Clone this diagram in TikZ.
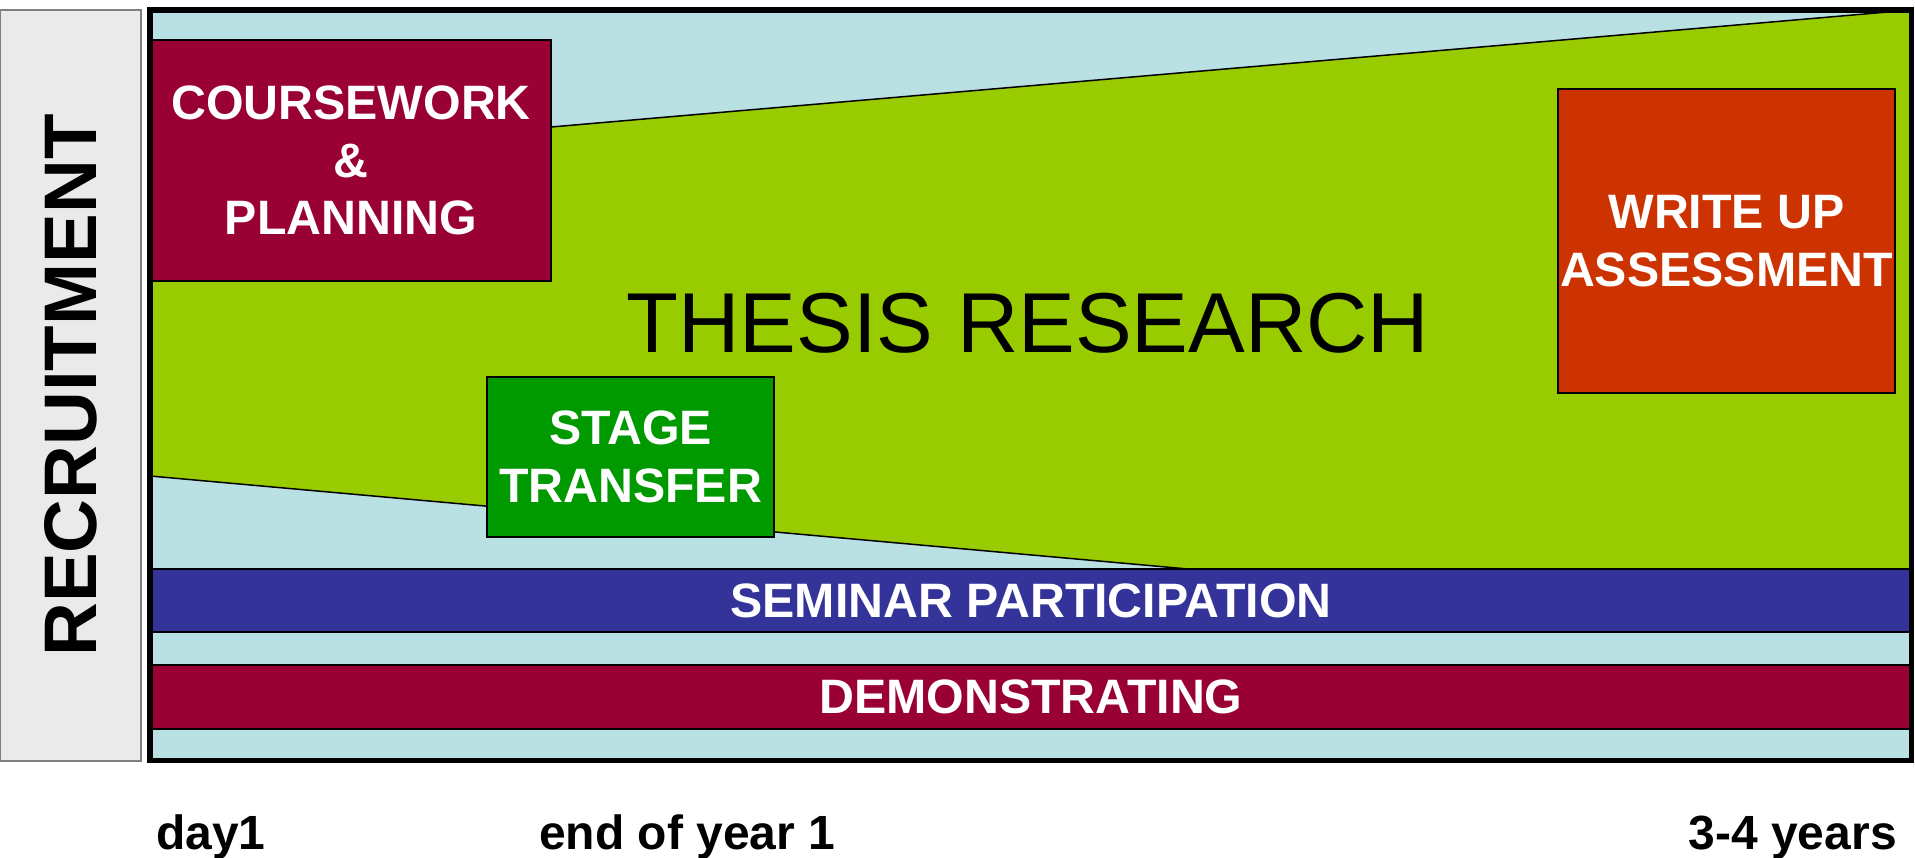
\documentclass[tikz,border=0pt]{standalone}
\usepackage{fontspec}
\setmainfont{Liberation Sans}
\definecolor{lblue}{HTML}{B9E0E3}
\definecolor{lgreen}{HTML}{99CC00}
\definecolor{maroonc}{HTML}{990033}
\definecolor{dgreen}{HTML}{009900}
\definecolor{redorange}{HTML}{CC3300}
\definecolor{navyc}{HTML}{333399}
\definecolor{lgray}{HTML}{EAEAEA}
\definecolor{edgegray}{HTML}{7F7F7F}
\begin{document}
\begin{tikzpicture}[x=1pt,y=-1pt,
  box/.style={draw=black, line width=2pt, inner sep=0pt, text=white,
    font=\bfseries\fontsize{48.3}{57.5}\selectfont, align=center},
  axislabel/.style={inner sep=0pt, font=\bfseries\fontsize{48}{57}\selectfont, text=black}]
\useasboundingbox (0,0) rectangle (1915,858);
% recruitment column
\node[rotate=90, fill=lgray, draw=edgegray, line width=1.5pt, inner sep=0pt,
  minimum width=751pt, minimum height=141pt,
  font=\bfseries\fontsize{74.5}{80}\selectfont] (recruit) at (70.5,385.5) {RECRUITMENT};
% timeline background
\fill[lblue] (150,10) rectangle (1911,760);
% thesis research region
\coordinate (gTL) at (150,161.5);
\coordinate (gTR) at (1911,10);
\coordinate (gBR) at (1911,569);
\coordinate (gBM) at (1188,569);
\coordinate (gBL) at (150,476);
\filldraw[fill=lgreen, draw=black, line width=1.5pt] (gTL) -- (gTR) -- (gBR) -- (gBM) -- (gBL) -- cycle;
\node[inner sep=0pt, anchor=base, font=\fontsize{85}{90}\selectfont] (thesis) at (1028,353) {THESIS RESEARCH};
% boxes
\node[box, fill=maroonc, minimum width=400pt, minimum height=241pt] (course) at (351,160.5) {COURSEWORK\\\&\\PLANNING};
\node[box, fill=dgreen, minimum width=287pt, minimum height=160pt] (stage) at (630.5,457) {STAGE\\TRANSFER};
\node[box, fill=redorange, minimum width=337pt, minimum height=304pt] (write) at (1726.5,241) {WRITE UP\\ASSESSMENT};
\node[box, fill=navyc, minimum width=1760pt, minimum height=63pt] (seminar) at (1031,600.5) {SEMINAR PARTICIPATION};
\node[box, fill=maroonc, minimum width=1760pt, minimum height=64pt] (demo) at (1031,697) {DEMONSTRATING};
% frame
\draw[line width=5.5pt] (150,10) rectangle (1911.5,760.5);
% time axis labels
\node[axislabel, anchor=base west] (day1) at (156,849) {day1};
\node[axislabel, anchor=base west] (year1) at (539,849) {end of year 1};
\node[axislabel, anchor=base east] (years) at (1897,849) {3-4 years};
\end{tikzpicture}
\end{document}
